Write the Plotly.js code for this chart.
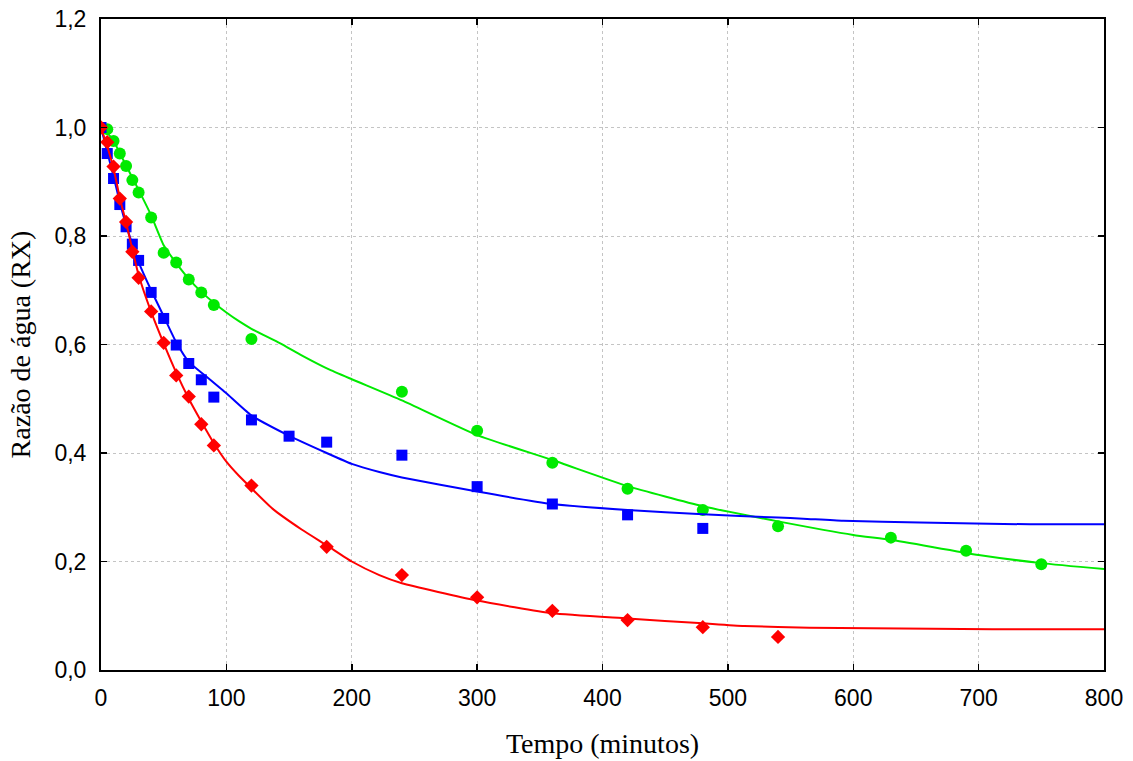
<!DOCTYPE html>
<html>
<head>
<meta charset="utf-8">
<script src="https://cdn.plot.ly/plotly-3.0.1.min.js"></script>
<style>html,body{margin:0;padding:0;background:#fff;}#chart{width:1133px;height:761px;}</style>
</head>
<body>
<div id="chart"></div>
<script>
// Observed data
var tGreen = [5,10,15,20,25,30,40,50,60,70,80,90,120,240,300,360,420,480,540,630,690,750];
var rxGreen = [0.997,0.975,0.952,0.929,0.903,0.880,0.834,0.769,0.751,0.720,0.696,0.673,0.610,0.513,0.441,0.382,0.334,0.295,0.265,0.244,0.220,0.195];

var tBlue = [0,5,10,15,20,25,30,40,50,60,70,80,90,120,150,180,240,300,360,420,480];
var rxBlue = [1.0,0.952,0.906,0.858,0.817,0.785,0.755,0.696,0.648,0.599,0.565,0.535,0.503,0.461,0.431,0.420,0.396,0.338,0.306,0.286,0.261];

var tRed = [0,5,10,15,20,25,30,40,50,60,70,80,90,120,180,240,300,360,420,480,540];
var rxRed = [1.0,0.973,0.928,0.869,0.826,0.771,0.723,0.661,0.603,0.543,0.504,0.453,0.414,0.340,0.227,0.175,0.134,0.109,0.092,0.079,0.061];

// Fitted curves
var tFitGreen = [0,5,10,20,30,40,50,60,70,80,90,100,110,120,143,160,181,200,240,300,360,420,480,540,600,630,700,750,800];
var rxFitGreen = [1.0,0.99,0.975,0.93,0.885,0.838,0.783,0.750,0.721,0.697,0.677,0.659,0.643,0.629,0.602,0.58,0.555,0.536,0.497,0.433,0.387,0.339,0.302,0.274,0.249,0.240,0.212,0.197,0.186];

var tFitBlue = [0,5,10,15,20,25,30,40,50,60,70,84,100,119,149,180,200,222,240,300,360,420,480,540,560,592,653,741,800];
var rxFitBlue = [1.0,0.955,0.91,0.862,0.82,0.785,0.752,0.70,0.652,0.604,0.568,0.541,0.510,0.471,0.433,0.400,0.380,0.365,0.355,0.329,0.306,0.295,0.287,0.281,0.279,0.275,0.272,0.2685,0.2685];

var tFitRed = [0,5,10,15,20,25,30,40,50,60,70,80,90,100,110,120,137,160,180,200,222,240,300,360,420,480,513,565,711,800];
var rxFitRed = [1.0,0.965,0.925,0.87,0.825,0.775,0.728,0.66,0.602,0.548,0.50,0.458,0.418,0.384,0.358,0.335,0.297,0.259,0.230,0.200,0.175,0.160,0.128,0.1045,0.095,0.086,0.081,0.078,0.075,0.075];

var xTicks = [0,100,200,300,400,500,600,700,800];
var yTicks = [0,0.2,0.4,0.6,0.8,1.0,1.2];

var GREEN = '#00ea00', BLUE = '#0000ff', RED = '#ff0000';
var lineShape = {shape: 'spline', smoothing: 0.5, width: 2};

var traces = [
  {x: tFitGreen, y: rxFitGreen, mode: 'lines', line: Object.assign({color: GREEN}, lineShape), hoverinfo: 'skip'},
  {x: tGreen, y: rxGreen, mode: 'markers', marker: {symbol: 'circle', size: 12, color: GREEN}},
  {x: tFitBlue, y: rxFitBlue, mode: 'lines', line: Object.assign({color: BLUE}, lineShape), hoverinfo: 'skip'},
  {x: tBlue, y: rxBlue, mode: 'markers', marker: {symbol: 'square', size: 11, color: BLUE}},
  {x: tFitRed, y: rxFitRed, mode: 'lines', line: Object.assign({color: RED}, lineShape), hoverinfo: 'skip'},
  {x: tRed, y: rxRed, mode: 'markers', marker: {symbol: 'diamond', size: 11, color: RED}}
];

var layout = {
  width: 1133, height: 761,
  margin: {l: 101, r: 29, t: 19, b: 91},
  paper_bgcolor: '#fff', plot_bgcolor: '#fff',
  showlegend: false,
  separators: ',.',
  font: {family: 'Liberation Sans, Arial, sans-serif', size: 23, color: '#000'},
  xaxis: {
    range: [0, 800], tickvals: xTicks, ticktext: xTicks.map(String),
    showgrid: true, gridcolor: '#c4c4c4', griddash: 'dot', gridwidth: 1,
    zeroline: false, showline: true, linecolor: '#000', linewidth: 2, mirror: 'ticks',
    ticks: 'inside', ticklen: 6, tickcolor: '#000', tickwidth: 1.5,
    tickfont: {size: 23}, ticklabelstandoff: 6,
    title: {text: 'Tempo (minutos)', font: {family: 'Liberation Serif, Times New Roman, serif', size: 28}, standoff: 24}
  },
  yaxis: {
    range: [0, 1.2], tickvals: yTicks, tickformat: '.1f',
    showgrid: true, gridcolor: '#c4c4c4', griddash: 'dot', gridwidth: 1,
    zeroline: false, showline: true, linecolor: '#000', linewidth: 2, mirror: 'ticks',
    ticks: 'inside', ticklen: 6, tickcolor: '#000', tickwidth: 1.5,
    tickfont: {size: 23}, ticklabelstandoff: 8,
    title: {text: 'Razão de água (RX)', font: {family: 'Liberation Serif, Times New Roman, serif', size: 28}, standoff: 16}
  }
};

Plotly.newPlot('chart', traces, layout, {displayModeBar: false, staticPlot: true});
</script>
</body>
</html>
